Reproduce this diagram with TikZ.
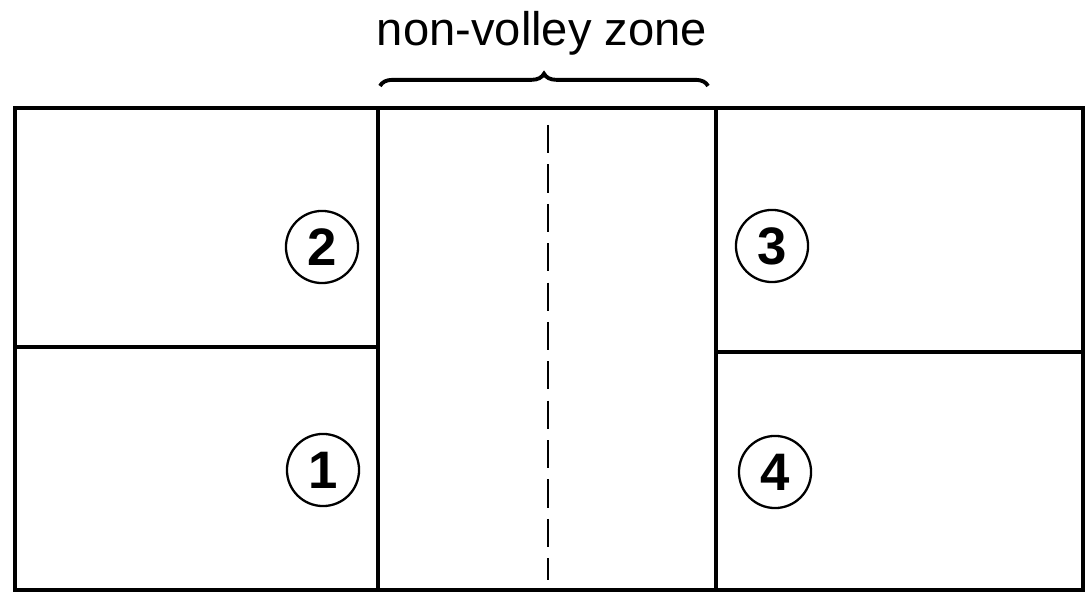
\documentclass[tikz,border=0pt]{standalone}
\usepackage{fontspec}
\setmainfont{Liberation Sans}
\usetikzlibrary{decorations.pathreplacing}

\begin{document}
\begin{tikzpicture}[x=0.01cm, y=-0.01cm,
  court/.style={line width=1.1pt},
  spot/.style={draw, circle, line width=0.65pt, minimum size=20.5pt, inner sep=0pt, font=\fontsize{15}{15}\selectfont\bfseries},
  label/.style={font=\fontsize{13.4}{13.4}\selectfont}
]
\useasboundingbox (0,0) rectangle (1086,595);
% court outline
\draw[court] (15,108) rectangle (1083,590);
\draw[court] (378,108) -- (378,590);
\draw[court] (716,108) -- (716,590);
\draw[court] (15,347) -- (378,347);
\draw[court] (716,352) -- (1083,352);
% centre line
\draw[line width=0.8pt, dash pattern=on 8pt off 3.2pt] (548,125) -- (548,580);
% serving positions
\node[spot] (p2) at (322,247) {2};
\node[spot] (p1) at (323,470) {1};
\node[spot] (p3) at (772,246) {3};
\node[spot] (p4) at (775,472) {4};
% zone label
\node[label] (nvz) at (542,33) {non-volley zone};
\draw[line width=1.1pt, decorate, decoration={brace, amplitude=3.5pt, aspect=0.5}] (380,86) -- (708,86);
\end{tikzpicture}
\end{document}
